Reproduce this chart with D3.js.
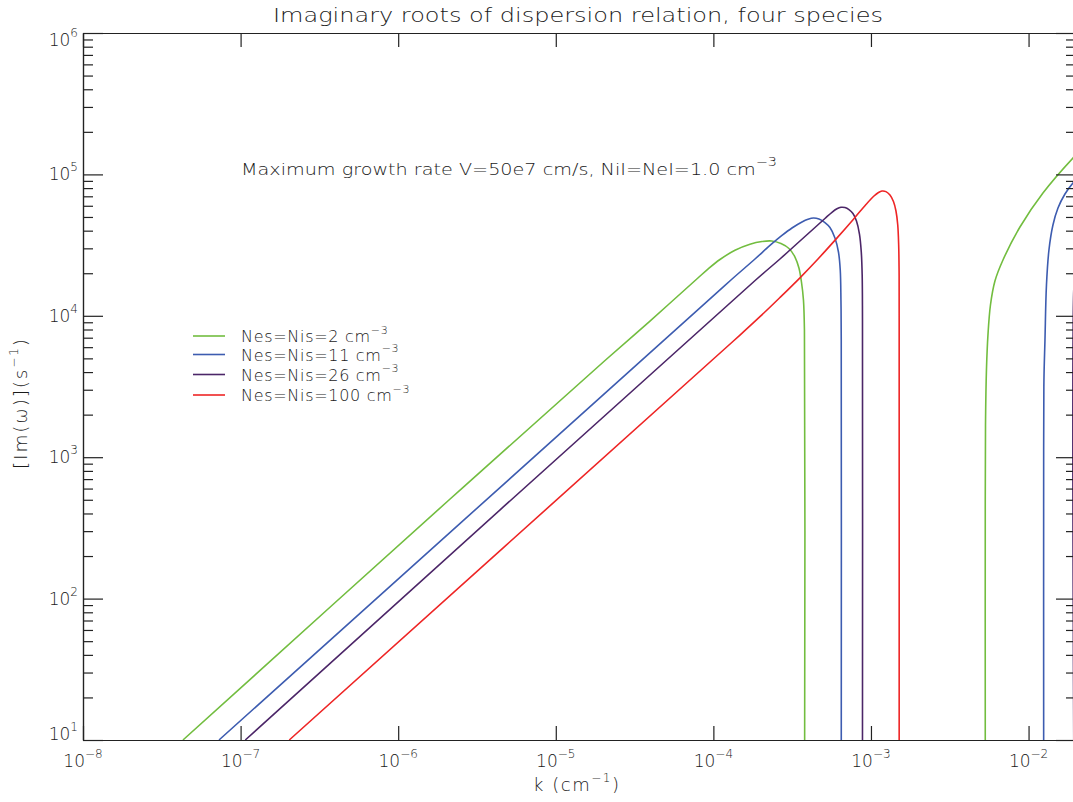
<!DOCTYPE html>
<html>
<head>
<meta charset="utf-8">
<script src="https://cdn.jsdelivr.net/npm/d3@7"></script>
<style>
  body { margin: 0; background: #fff; }
  text { font-family: "DejaVu Sans", sans-serif; font-weight: 200; fill: #1a1a1a; }
</style>
</head>
<body>
<div id="chart"></div>
<script>
// values (k in cm^-1, |Im(w)| in s^-1), null = gap between branches
const kGreen = [4.31e-8, 2.10e-6, 2.07e-5, 3.960e-5, 7.98e-5, 9.160e-5, 1.101e-4, 1.371e-4, 1.707e-4, 2.034e-4, 2.344e-4, 2.685e-4, 3.017e-4, 3.295e-4, 3.491e-4, 3.622e-4, 3.729e-4, 3.783e-4, 3.795e-4,
  null, 5.312e-3, 5.312e-3, 5.335e-3, 5.405e-3, 5.525e-3, 5.731e-3, 6.119e-3, 6.88e-3, 8.82e-3, 1.234e-2, 1.913e-2, 2.0e-2];
const wGreen = [10, 498, 4868, 9178, 18510, 21220, 25010, 29050, 32040, 33490, 33810, 32460, 29920, 26050, 21780, 17340, 12940, 7935, 10,
  null, 10, 498, 1833, 4138, 7315, 11920, 17630, 24810, 42460, 73860, 130600, 137200];

const kBlue = [7.296e-8, 8.222e-5, 1.293e-4, 1.837e-4, 2.286e-4, 2.724e-4, 3.153e-4, 3.649e-4, 3.984e-4, 4.316e-4, 4.677e-4, 5.105e-4, 5.493e-4, 5.909e-4, 6.219e-4, 6.384e-4, 6.449e-4, 6.477e-4, 6.48e-4,
  null, 1.247e-2, 1.247e-2, 1.252e-2, 1.271e-2, 1.299e-2, 1.347e-2, 1.428e-2, 1.537e-2, 1.702e-2, 1.913e-2, 2.0e-2];
const wBlue = [10, 11380, 17920, 25220, 31430, 36990, 41770, 46060, 48140, 49170, 48370, 45680, 42120, 35500, 28260, 21080, 12940, 6744, 10,
  null, 10, 1124, 3516, 6744, 16510, 29190, 43860, 57860, 72660, 86960, 91300];

const kPurple = [1.071e-7, 1.855e-4, 2.646e-4, 3.543e-4, 4.413e-4, 5.105e-4, 5.655e-4, 6.084e-4, 6.449e-4, 6.839e-4, 7.251e-4, 7.687e-4, 8.091e-4, 8.453e-4, 8.680e-4, 8.795e-4, 8.834e-4, 8.834e-4,
  null, 1.936e-2, 1.936e-2, 1.970e-2, 2.0e-2];
const wPurple = [10, 17920, 25220, 33810, 42120, 48770, 53950, 57110, 58520, 58240, 56380, 52900, 46810, 37880, 28260, 19430, 9340, 10,
  null, 10, 15220, 19430, 22880];

const kRed = [2.037e-7, 9.840e-5, 1.475e-4, 1.975e-4, 2.646e-4, 3.543e-4, 4.611e-4, 6.058e-4, 7.720e-4, 9.296e-4, 1.045e-3, 1.116e-3, 1.174e-3, 1.245e-3, 1.320e-3, 1.389e-3, 1.441e-3, 1.479e-3, 1.499e-3, 1.508e-3, 1.510e-3, 1.510e-3];
const wRed = [10, 4868, 7303, 9854, 13470, 18560, 25220, 35270, 47980, 61250, 70340, 74470, 76300, 75560, 71500, 64320, 55100, 43860, 31680, 21080, 9340, 10];

const densities = ["2", "11", "26", "100"];
const colors = ["#72bd3f", "#3d5cb0", "#4c2668", "#ee2525"];
const xTicks = [1e-8, 1e-7, 1e-6, 1e-5, 1e-4, 1e-3, 1e-2];
const xTickExp = ["−8", "−7", "−6", "−5", "−4", "−3", "−2"];
const yTicks = [1e1, 1e2, 1e3, 1e4, 1e5, 1e6];
const yTickExp = ["1", "2", "3", "4", "5", "6"];

const W = 1073, H = 802;
const mLeft = 83, mRight = 1076, mTop = 33, mBottom = 740;

const x = d3.scaleLog().domain([1e-8, 2e-2]).range([mLeft, mRight]);
const y = d3.scaleLog().domain([10, 1e6]).range([mBottom, mTop]);

const yMinor = [];
yTicks.slice(0, -1).forEach(d => { for (let m = 2; m < 10; m++) yMinor.push(d * m); });

const svg = d3.select("#chart").append("svg")
  .attr("width", W).attr("height", H);

// text with superscripts: parts = [[string, isSup], ...]
function rich(sel, parts, supSize) {
  let up = false;
  parts.forEach(p => {
    const t = sel.append("tspan").text(p[0]);
    if (p[1] && !up) { t.attr("dy", -supSize * 0.75).style("font-size", supSize + "px"); up = true; }
    else if (p[1]) { t.style("font-size", supSize + "px"); }
    else if (up) { t.attr("dy", supSize * 0.75); up = false; }
  });
  return sel;
}

svg.append("defs").append("clipPath").attr("id", "plot")
  .append("rect").attr("x", mLeft).attr("y", mTop - 2)
  .attr("width", mRight - mLeft).attr("height", mBottom - mTop + 4);

// curves
const series = [[kGreen, wGreen], [kBlue, wBlue], [kPurple, wPurple], [kRed, wRed]];
const line = d3.line()
  .defined(d => d[0] != null)
  .x(d => x(d[0]))
  .y(d => y(d[1]))
  .curve(d3.curveCatmullRom.alpha(0.5));

series.forEach((s, i) => {
  svg.append("path")
    .datum(d3.zip(s[0], s[1]))
    .attr("clip-path", "url(#plot)")
    .attr("d", line)
    .style("fill", "none")
    .style("stroke", colors[i])
    .style("stroke-width", 1.6);
});

// axes (box, ticks inward)
const axisStyle = g => g.selectAll("path, line").style("stroke", "#222").style("stroke-width", 1.2);

svg.append("g").attr("transform", "translate(0," + mBottom + ")")
  .call(d3.axisBottom(x).tickValues(xTicks).tickSize(-14).tickSizeOuter(0).tickFormat(""))
  .call(axisStyle);
svg.append("g").attr("transform", "translate(0," + mTop + ")")
  .call(d3.axisTop(x).tickValues(xTicks).tickSize(-14).tickSizeOuter(0).tickFormat(""))
  .call(axisStyle);
svg.append("g").attr("transform", "translate(" + mLeft + ",0)")
  .call(d3.axisLeft(y).tickValues(yTicks).tickSize(-20).tickSizeOuter(0).tickFormat(""))
  .call(axisStyle);
svg.append("g").attr("transform", "translate(" + mLeft + ",0)")
  .call(d3.axisLeft(y).tickValues(yMinor).tickSize(-10).tickSizeOuter(0).tickFormat(""))
  .call(axisStyle);
svg.append("g").attr("transform", "translate(" + mRight + ",0)")
  .call(d3.axisRight(y).tickValues(yTicks).tickSize(-20).tickSizeOuter(0).tickFormat(""))
  .call(axisStyle);
svg.append("g").attr("transform", "translate(" + mRight + ",0)")
  .call(d3.axisRight(y).tickValues(yMinor).tickSize(-10).tickSizeOuter(0).tickFormat(""))
  .call(axisStyle);

// tick labels
xTicks.forEach((d, i) => {
  rich(svg.append("text")
    .attr("x", x(d)).attr("y", 767)
    .attr("text-anchor", "middle")
    .style("font-size", "17px"), [["10", false], [xTickExp[i], true]], 12);
});
yTicks.forEach((d, i) => {
  const off = i === 0 ? 0 : (i === yTicks.length - 1 ? 13 : 6);
  rich(svg.append("text")
    .attr("x", 78).attr("y", y(d) + off)
    .attr("text-anchor", "end")
    .style("font-size", "17px"), [["10", false], [yTickExp[i], true]], 12);
});

// titles
svg.append("text")
  .attr("x", 578).attr("y", 22)
  .attr("text-anchor", "middle")
  .attr("textLength", 610).attr("lengthAdjust", "spacingAndGlyphs")
  .style("font-size", "20px")
  .text("Imaginary roots of dispersion relation, four species");

rich(svg.append("text")
  .attr("x", 576).attr("y", 791)
  .attr("text-anchor", "middle")
  .attr("textLength", 86).attr("lengthAdjust", "spacing")
  .style("font-size", "18px"), [["k (cm", false], ["−1", true], [")", false]], 12);

rich(svg.append("text")
  .attr("transform", "translate(27,404) rotate(-90)")
  .attr("text-anchor", "middle")
  .attr("textLength", 130).attr("lengthAdjust", "spacing")
  .style("font-size", "18.5px"), [["[Im(ω)](s", false], ["−1", true], [")", false]], 12);

rich(svg.append("text")
  .attr("x", 241).attr("y", 175)
  .attr("textLength", 536).attr("lengthAdjust", "spacingAndGlyphs")
  .style("font-size", "16px"),
  [["Maximum growth rate V=50e7 cm/s, NiI=NeI=1.0 cm", false], ["−3", true]], 12);

// legend
const legendY = [336, 354.5, 374.5, 395];
densities.forEach((d, i) => {
  svg.append("line")
    .attr("x1", 193).attr("x2", 225)
    .attr("y1", legendY[i]).attr("y2", legendY[i])
    .style("stroke", colors[i]).style("stroke-width", 1.6);
  rich(svg.append("text")
    .attr("x", 241).attr("y", legendY[i] + 6)
    .style("font-size", "16px")
    .style("letter-spacing", "0.7px"),
    [["Nes=Nis=" + d + " cm", false], ["−3", true]], 11);
});
</script>
</body>
</html>
